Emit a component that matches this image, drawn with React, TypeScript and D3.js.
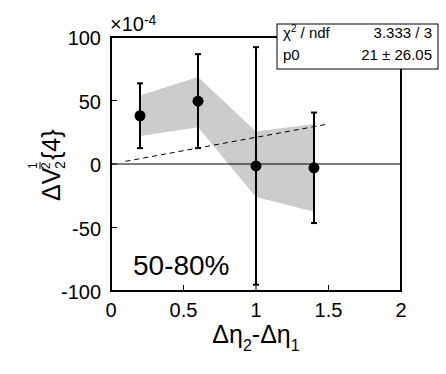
import * as d3 from "d3"

const xVals = [0.2, 0.6, 1.0, 1.4]
const yVals = [38, 49.5, -1.5, -3]
const yErrs = [25.5, 37, 93.5, 43.5]
const bandHi = [54, 68.5, 25.5, 31.5]
const bandLo = [22, 29, -26, -37.5]
const xTicks = [0, 0.5, 1, 1.5, 2]
const yTicks = [-100, -50, 0, 50, 100]
const fitP0 = 21
const fitRange = [0.1, 1.5]

const W = 446
const H = 374
const m = { l: 111, r: 45, t: 37, b: 83 }
const font = "'Liberation Sans', Arial, Helvetica, sans-serif"

export default function App() {
  const x = d3.scaleLinear().domain([0, 2]).range([m.l, W - m.r])
  const y = d3.scaleLinear().domain([-100, 100]).range([H - m.b, m.t])

  const band = d3
    .area<number>()
    .x((_, i) => x(xVals[i]))
    .y0((_, i) => y(bandLo[i]))
    .y1((d) => y(d))(bandHi)

  const fit = d3
    .line<number>()
    .x((d) => x(d))
    .y((d) => y(fitP0 * d))(fitRange)

  const [x0, x1] = x.range()
  const [y0, y1] = y.range()

  return (
    <svg
      width={W}
      height={H}
      style={{ position: "absolute", left: 0, top: 0, fontFamily: font }}
    >
      <rect width={W} height={H} fill="#fff" />
      <path d={band ?? ""} fill="#cccccc" />
      <line x1={x0} x2={x1} y1={y(0)} y2={y(0)} stroke="#000" strokeWidth={1} />
      <path d={fit ?? ""} fill="none" stroke="#000" strokeWidth={1} strokeDasharray="5,4" />

      {xVals.map((xv, i) => (
        <g key={i} stroke="#000" strokeWidth={2}>
          <line x1={x(xv)} x2={x(xv)} y1={y(yVals[i] + yErrs[i])} y2={y(yVals[i] - yErrs[i])} />
          <line x1={x(xv) - 3} x2={x(xv) + 3} y1={y(yVals[i] + yErrs[i])} y2={y(yVals[i] + yErrs[i])} />
          <line x1={x(xv) - 3} x2={x(xv) + 3} y1={y(yVals[i] - yErrs[i])} y2={y(yVals[i] - yErrs[i])} />
          <circle cx={x(xv)} cy={y(yVals[i])} r={5.5} fill="#000" stroke="none" />
        </g>
      ))}

      {/* frame */}
      <rect x={x0} y={y1} width={x1 - x0} height={y0 - y1} fill="none" stroke="#000" strokeWidth={2} />

      {yTicks.map((t) => (
        <g key={t}>
          <line x1={x0} x2={x0 + 6} y1={y(t)} y2={y(t)} stroke="#000" strokeWidth={1} />
          <text x={x0 - 10} y={y(t) + 8} fontSize={20} textAnchor="end">
            {t}
          </text>
        </g>
      ))}
      {xTicks.map((t) => (
        <g key={t}>
          <line x1={x(t)} x2={x(t)} y1={y0} y2={y0 - 6} stroke="#000" strokeWidth={1} />
          <text x={x(t)} y={y0 + 26} fontSize={20} textAnchor="middle">
            {t}
          </text>
        </g>
      ))}

      <text x={x0 - 1} y={31} fontSize={20}>
        ×10
        <tspan dy={-6} fontSize={14}>-4</tspan>
      </text>

      {/* x title */}
      <text x={(x0 + x1) / 2} y={343} fontSize={25} textAnchor="middle">
        Δη
        <tspan dy={8} fontSize={16}>2</tspan>
        <tspan dy={-8}>-Δη</tspan>
        <tspan dy={8} fontSize={16}>1</tspan>
      </text>

      {/* y title */}
      <g transform="translate(60,201) rotate(-90)" fontSize={25}>
        <text x={0} y={0}>ΔV</text>
        <text x={32} y={-23} fontSize={12}>1</text>
        <line x1={32} x2={39} y1={-20} y2={-20} stroke="#000" strokeWidth={1} />
        <text x={32} y={-10} fontSize={12}>2</text>
        <text x={32} y={5} fontSize={14}>2</text>
        <text x={41} y={0}>{"{4}"}</text>
      </g>

      <text x={133} y={275} fontSize={28}>
        50-80%
      </text>

      {/* stats box */}
      <rect x={277} y={24} width={161} height={45} fill="#fff" stroke="#000" strokeWidth={1} />
      <g fontSize={15}>
        <text x={283} y={38}>
          χ<tspan dy={-6} fontSize={10}>2</tspan>
          <tspan dy={6}> / ndf</tspan>
        </text>
        <text x={432} y={38} textAnchor="end">3.333 / 3</text>
        <text x={283} y={60}>p0</text>
        <text x={432} y={60} textAnchor="end">21 ± 26.05</text>
      </g>
    </svg>
  )
}
